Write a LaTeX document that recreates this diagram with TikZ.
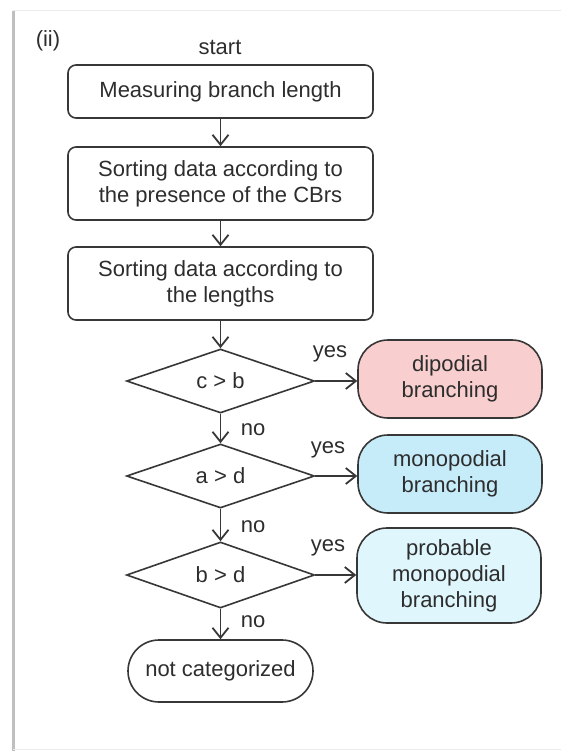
\documentclass[tikz,border=0pt]{standalone}
\usepackage{fontspec}
\setmainfont{Liberation Sans}
\usetikzlibrary{shapes.geometric,arrows.meta}

\definecolor{inkgray}{RGB}{55,55,55}
\definecolor{txtgray}{RGB}{45,45,45}
\definecolor{dipink}{RGB}{248,206,206}
\definecolor{monoblue}{RGB}{198,235,249}
\definecolor{probcyan}{RGB}{222,246,252}

\tikzset{every picture/.style={line width=1.6pt}}
\tikzset{
  stepbox/.style={draw=inkgray, rounded corners=8pt, minimum width=305pt, inner sep=0pt, align=center},
  decision/.style={draw=inkgray, diamond, aspect=3, minimum width=188pt, minimum height=64pt, inner sep=0pt},
  outbox/.style={draw=inkgray, rounded corners=30pt, minimum width=184pt, inner sep=0pt, align=center},
  flow/.style={draw=inkgray, -{Straight Barb[length=10pt,width=16pt,line width=1.8pt]}},
}

\begin{document}
\begin{tikzpicture}[x=1pt,y=1pt,yscale=-1,xscale=1,font=\fontsize{22}{26}\selectfont,text=txtgray]
\useasboundingbox (0,0) rectangle (561,751);

%Frame
\draw [line width=3pt, color=black!25] (13,11) -- (13,751) ;
\draw [line width=1pt, color=black!8] (13,11) -- (561,11) ;
\draw [line width=1pt, color=black!8] (13,749) -- (561,749) ;

% Text Node
\node (panel) at (48,41) {(ii)};
% Text Node
\node (start) at (220,47) {start};

%Shape: Rounded Rectangle
\node [stepbox, minimum height=53pt] (measure) at (220.5,91.5) {Measuring branch length};
%Shape: Rounded Rectangle
\node [stepbox, minimum height=73pt] (sortcbr) at (220.5,183.5) {Sorting data according to\\the presence of the CBrs};
%Shape: Rounded Rectangle
\node [stepbox, minimum height=73pt] (sortlen) at (220.5,283.5) {Sorting data according to\\the lengths};

%Shape: Diamond
\node [decision] (cgtb) at (220.5,381) {c > b};
%Shape: Diamond
\node [decision] (agtd) at (220.5,476) {a > d};
%Shape: Diamond
\node [decision, minimum height=66pt] (bgtd) at (220.5,575) {b > d};

%Shape: Rounded Rectangle
\node [outbox, rounded corners=31pt, minimum width=185pt, minimum height=62pt] (notcat) at (220.5,671) {not categorized};
%Shape: Rounded Rectangle
\node [outbox, fill=dipink, minimum height=78pt] (dipod) at (450,379) {dipodial\\branching};
%Shape: Rounded Rectangle
\node [outbox, fill=monoblue, minimum height=78pt] (monopod) at (450,474) {monopodial\\branching};
%Shape: Rounded Rectangle
\node [outbox, fill=probcyan, minimum height=95pt] (probmono) at (449,575.5) {probable\\monopodial\\branching};

% Text Node
\node (yes1) at (330,354) {yes};
\node (yes2) at (328,450) {yes};
\node (yes3) at (328,548) {yes};
\node (no1) at (253,430) {no};
\node (no2) at (253,527) {no};
\node (no3) at (253,622) {no};

%Straight Lines
\draw [flow] (measure) -- (sortcbr) ;
\draw [flow] (sortcbr) -- (sortlen) ;
\draw [flow] (sortlen) -- (cgtb) ;
\draw [flow] (cgtb) -- (agtd) ;
\draw [flow] (agtd) -- (bgtd) ;
\draw [flow] (bgtd) -- (notcat) ;
\draw [flow] (cgtb.east) -- (cgtb.east -| dipod.west) ;
\draw [flow] (agtd.east) -- (agtd.east -| monopod.west) ;
\draw [flow] (bgtd.east) -- (bgtd.east -| probmono.west) ;
\end{tikzpicture}
\end{document}
